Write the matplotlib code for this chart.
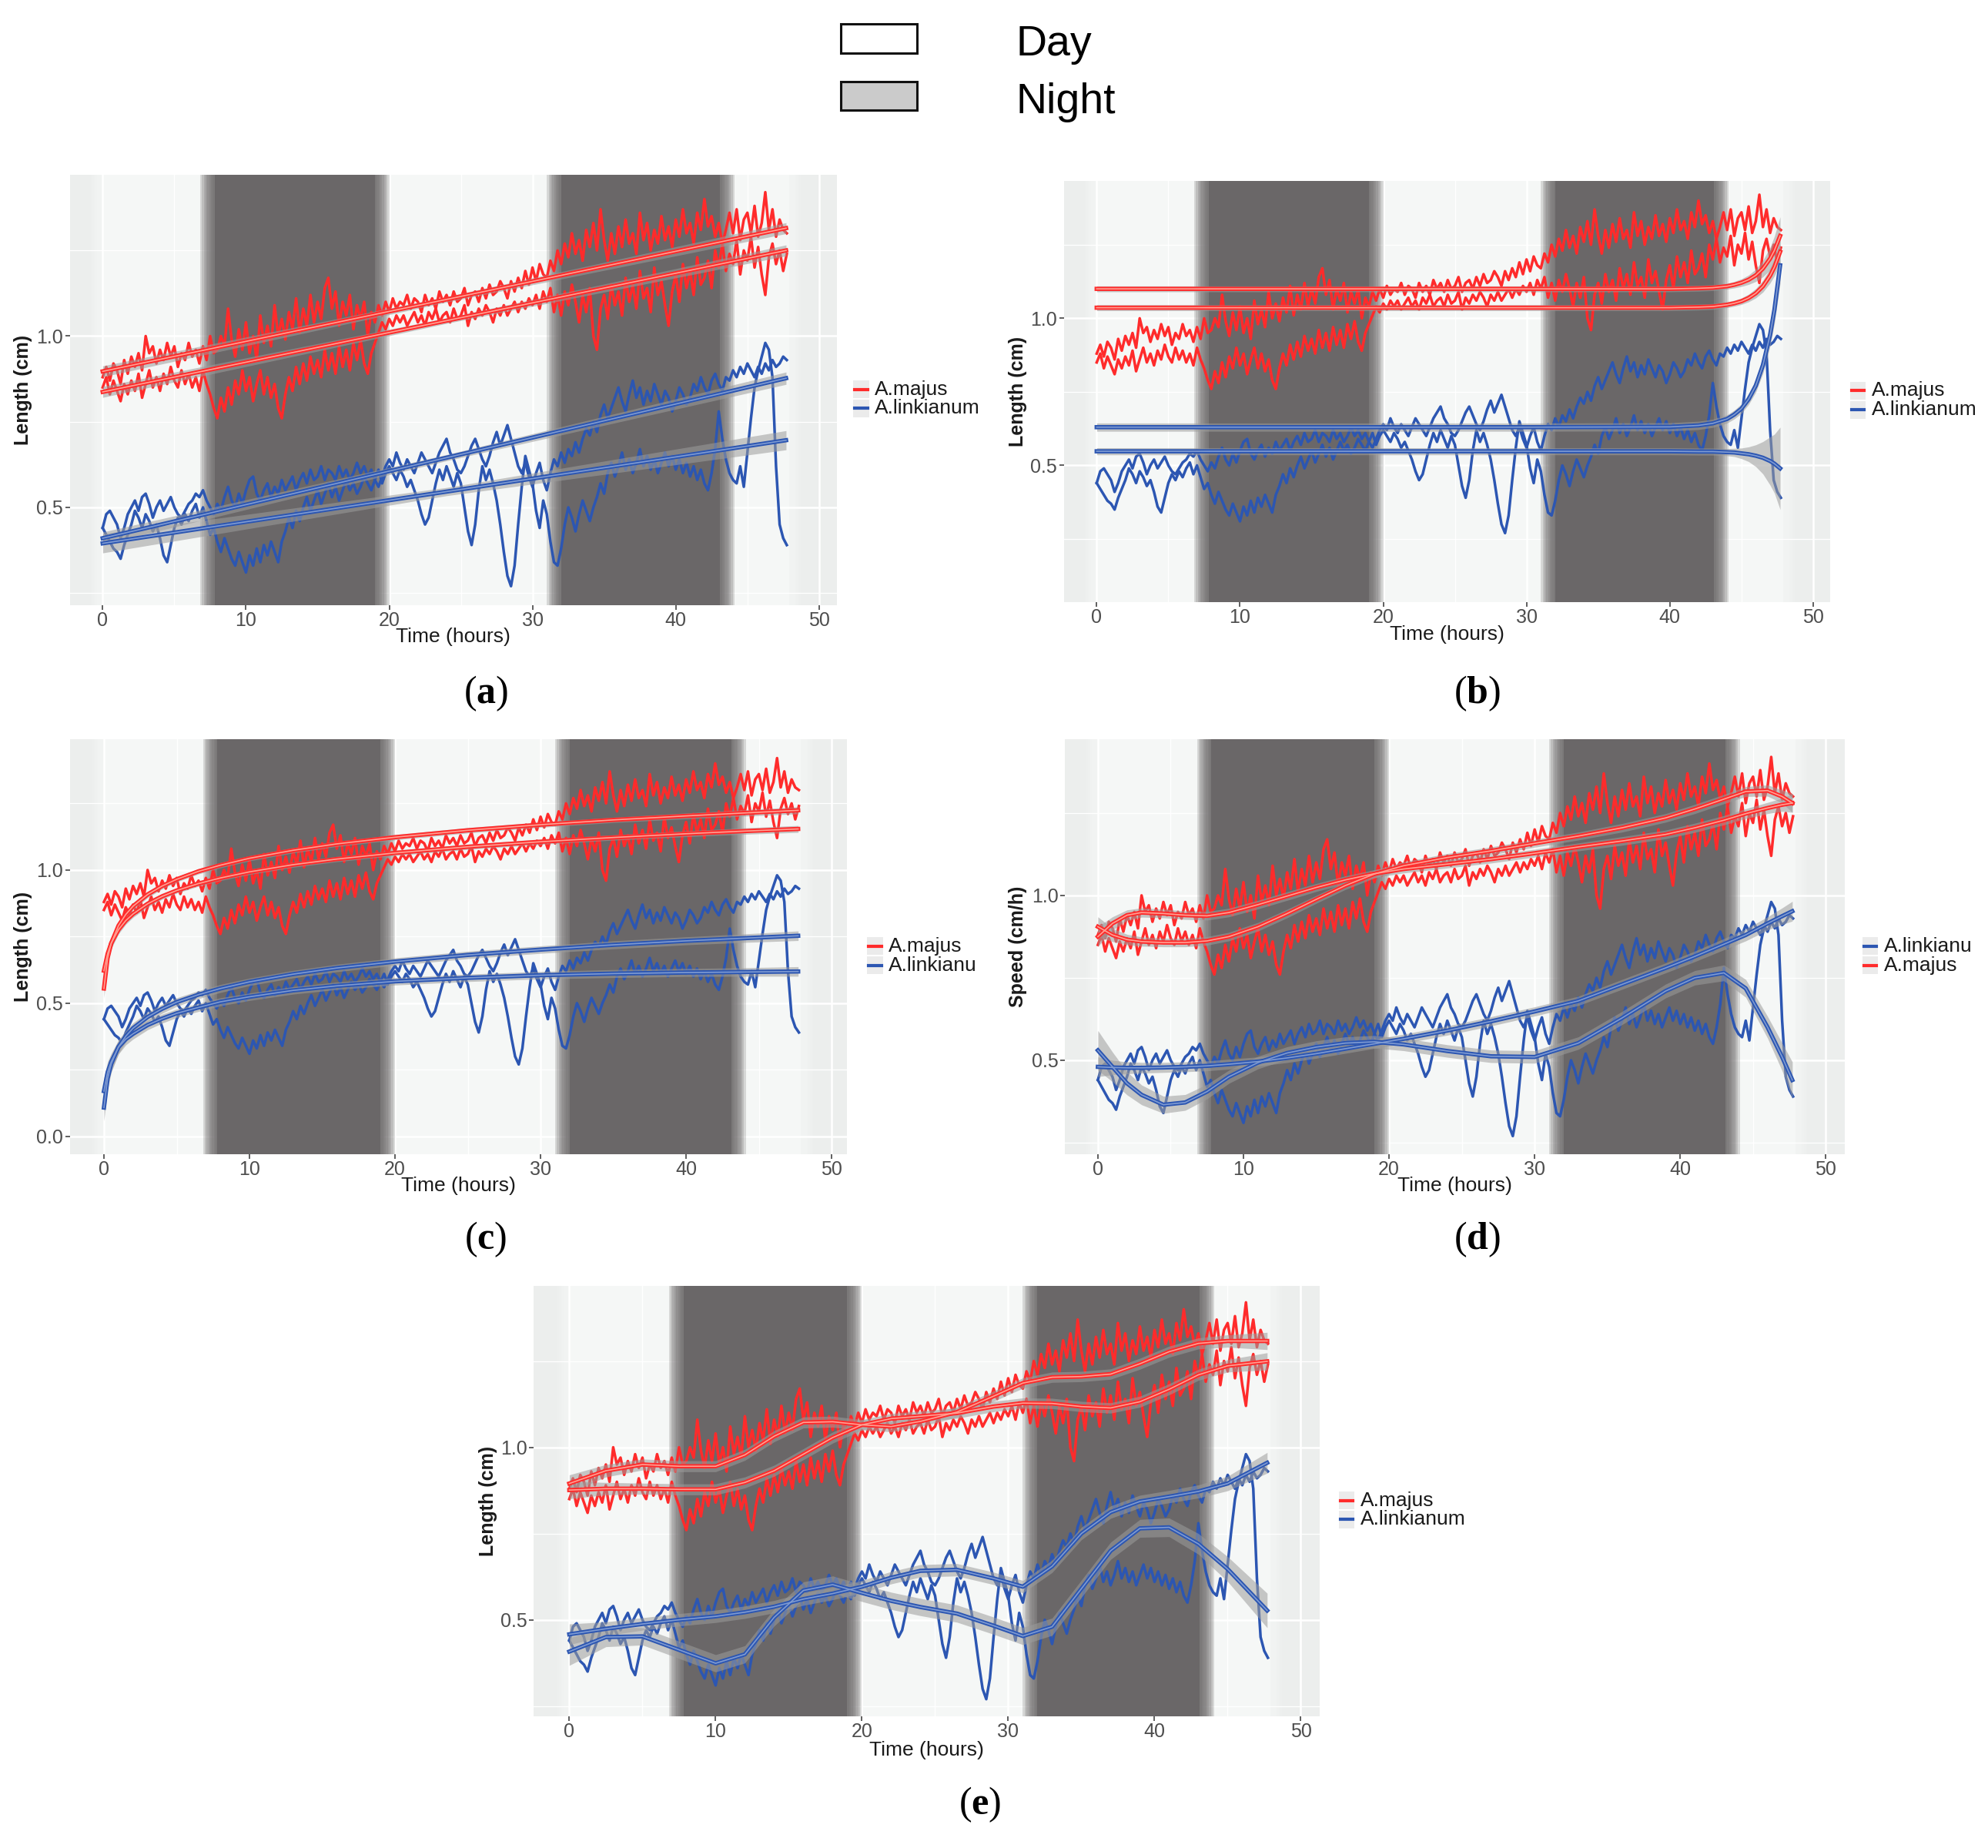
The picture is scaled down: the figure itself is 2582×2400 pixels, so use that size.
import matplotlib.pyplot as plt
import numpy as np
from matplotlib.lines import Line2D
from matplotlib.patches import Rectangle

plt.rcParams["font.family"] = ["Liberation Sans", "DejaVu Sans"]
plt.rcParams["mathtext.fontset"] = "custom"
plt.rcParams["mathtext.rm"] = "Liberation Serif"
plt.rcParams["mathtext.bf"] = "Liberation Serif:bold"

RED = "#ff2b2b"
BLUE = "#2c56b2"
RED_LIGHT = "#ffa093"
BLUE_LIGHT = "#7f9bd2"
PANEL_BG = "#eceeed"
DAY_BG = "#f5f7f6"
NIGHT_BG = "#6a6768"

# raw traces, one value every 0.25 h
TIME = np.arange(192) * 0.25
MAJUS_1 = [
    0.88, 0.91, 0.87, 0.92, 0.90, 0.86, 0.93, 0.89, 0.94, 0.91, 0.95, 0.90, 1.00, 0.95, 0.97, 0.92,
    0.96, 0.93, 0.98, 0.94, 0.97, 0.91, 0.95, 0.93, 0.98, 0.94, 0.96, 0.92, 0.97, 0.93, 1.00, 0.95,
    0.96, 1.00, 0.97, 1.08, 0.99, 0.94, 1.02, 0.96, 1.04, 0.95, 1.00, 0.93, 1.06, 0.98, 1.03, 0.97,
    1.09, 1.00, 1.05, 0.99, 1.07, 1.02, 1.11, 1.01, 1.08, 1.03, 1.12, 1.04, 1.10, 1.05, 1.14, 1.17,
    1.08, 1.13, 1.03, 1.10, 1.06, 1.12, 1.02, 1.09, 1.05, 1.10, 1.00, 1.07, 1.04, 1.09, 1.06, 1.10,
    1.07, 1.11, 1.08, 1.10, 1.09, 1.12, 1.08, 1.11, 1.10, 1.07, 1.12, 1.09, 1.11, 1.08, 1.13, 1.10,
    1.12, 1.09, 1.13, 1.10, 1.11, 1.14, 1.09, 1.12, 1.13, 1.10, 1.14, 1.11, 1.15, 1.12, 1.13, 1.16,
    1.14, 1.11, 1.16, 1.13, 1.17, 1.14, 1.19, 1.15, 1.20, 1.16, 1.21, 1.18, 1.17, 1.22, 1.19, 1.25,
    1.21, 1.27, 1.23, 1.30, 1.24, 1.28, 1.22, 1.31, 1.26, 1.33, 1.25, 1.37, 1.28, 1.22, 1.30, 1.24,
    1.32, 1.26, 1.34, 1.27, 1.30, 1.24, 1.36, 1.28, 1.33, 1.25, 1.31, 1.27, 1.35, 1.28, 1.32, 1.26,
    1.34, 1.29, 1.37, 1.30, 1.33, 1.27, 1.36, 1.31, 1.40, 1.32, 1.35, 1.29, 1.33, 1.27, 1.31, 1.36,
    1.30, 1.37, 1.28, 1.34, 1.36, 1.30, 1.38, 1.29, 1.33, 1.42, 1.31, 1.37, 1.29, 1.34, 1.31, 1.30,
]
MAJUS_2 = [
    0.85, 0.88, 0.83, 0.87, 0.84, 0.81, 0.86, 0.83, 0.87, 0.84, 0.89, 0.82, 0.86, 0.90, 0.85, 0.88,
    0.84, 0.89, 0.86, 0.91, 0.87, 0.85, 0.90, 0.86, 0.89, 0.85, 0.88, 0.84, 0.90, 0.86, 0.83, 0.79,
    0.76, 0.82, 0.78, 0.85, 0.80, 0.87, 0.83, 0.90, 0.84, 0.88, 0.81, 0.86, 0.90, 0.83, 0.88, 0.82,
    0.86, 0.79, 0.76, 0.83, 0.88, 0.84, 0.91, 0.86, 0.92, 0.87, 0.94, 0.89, 0.93, 0.88, 0.96, 0.90,
    0.95, 0.89, 0.97, 0.91, 0.96, 0.90, 0.98, 0.93, 0.99, 0.92, 0.89, 0.95, 0.98, 1.01, 1.04, 1.02,
    1.05, 1.03, 1.06, 1.04, 1.06, 1.03, 1.05, 1.07, 1.04, 1.06, 1.03, 1.07, 1.05, 1.08, 1.04, 1.06,
    1.07, 1.04, 1.08, 1.05, 1.06, 1.09, 1.03, 1.07, 1.05, 1.08, 1.06, 1.09, 1.07, 1.04, 1.08, 1.06,
    1.09, 1.06, 1.08, 1.10, 1.07, 1.10, 1.08, 1.11, 1.09, 1.12, 1.08, 1.13, 1.10, 1.14, 1.07, 1.12,
    1.06, 1.13, 1.09, 1.15, 1.10, 1.04, 1.12, 1.07, 1.14, 1.00, 0.96, 1.08, 1.12, 1.05, 1.15, 1.09,
    1.13, 1.06, 1.17, 1.10, 1.15, 1.08, 1.19, 1.11, 1.14, 1.07, 1.20, 1.12, 1.16, 1.09, 1.03, 1.13,
    1.18, 1.10, 1.21, 1.14, 1.19, 1.12, 1.23, 1.15, 1.17, 1.22, 1.14, 1.25, 1.20, 1.27, 1.19, 1.24,
    1.21, 1.28, 1.18, 1.25, 1.22, 1.29, 1.20, 1.26, 1.18, 1.12, 1.23, 1.27, 1.21, 1.25, 1.19, 1.24,
]
LINK_1 = [
    0.44, 0.48, 0.49, 0.47, 0.45, 0.41, 0.44, 0.48, 0.50, 0.52, 0.49, 0.53, 0.54, 0.51, 0.47, 0.50,
    0.52, 0.49, 0.51, 0.53, 0.50, 0.48, 0.47, 0.49, 0.51, 0.52, 0.54, 0.53, 0.55, 0.52, 0.50, 0.48,
    0.51, 0.49, 0.53, 0.56, 0.52, 0.50, 0.54, 0.51, 0.55, 0.58, 0.59, 0.54, 0.52, 0.55, 0.57, 0.53,
    0.56, 0.54, 0.58, 0.55, 0.57, 0.59, 0.55, 0.58, 0.60, 0.57, 0.61, 0.58, 0.59, 0.62, 0.58, 0.61,
    0.60, 0.58, 0.62, 0.59, 0.61, 0.58, 0.60, 0.63, 0.60, 0.62, 0.59, 0.61, 0.58, 0.56, 0.59, 0.62,
    0.64, 0.62, 0.66, 0.63, 0.61, 0.64, 0.62, 0.60, 0.63, 0.66, 0.64, 0.62, 0.60, 0.63, 0.66, 0.68,
    0.70, 0.66, 0.64, 0.61, 0.60, 0.62, 0.65, 0.68, 0.70, 0.67, 0.64, 0.62, 0.65, 0.69, 0.72, 0.68,
    0.71, 0.74, 0.70, 0.66, 0.62, 0.60, 0.63, 0.59, 0.56, 0.60, 0.63, 0.58, 0.55, 0.60, 0.64, 0.62,
    0.66, 0.63, 0.67, 0.65, 0.69, 0.66, 0.70, 0.73, 0.71, 0.75, 0.72, 0.77, 0.80, 0.76, 0.79, 0.82,
    0.85, 0.81, 0.78, 0.83, 0.87, 0.82, 0.85, 0.80, 0.84, 0.81, 0.86, 0.83, 0.80, 0.84, 0.82, 0.78,
    0.81, 0.85, 0.83, 0.80, 0.82, 0.86, 0.84, 0.88, 0.85, 0.83, 0.87, 0.89, 0.86, 0.84, 0.88, 0.87,
    0.90, 0.88, 0.91, 0.89, 0.92, 0.90, 0.88, 0.91, 0.89, 0.92, 0.90, 0.93, 0.91, 0.92, 0.94, 0.93,
]
LINK_2 = [
    0.44, 0.42, 0.40, 0.38, 0.37, 0.35, 0.39, 0.42, 0.45, 0.49, 0.47, 0.44, 0.48, 0.46, 0.43, 0.45,
    0.41, 0.36, 0.34, 0.39, 0.44, 0.47, 0.45, 0.48, 0.46, 0.49, 0.51, 0.47, 0.50, 0.46, 0.42, 0.44,
    0.40, 0.37, 0.41, 0.38, 0.35, 0.33, 0.37, 0.34, 0.31, 0.36, 0.33, 0.38, 0.34, 0.39, 0.36, 0.40,
    0.37, 0.34, 0.40, 0.43, 0.47, 0.44, 0.49, 0.46, 0.50, 0.53, 0.49, 0.52, 0.55, 0.51, 0.54, 0.57,
    0.53, 0.56, 0.52, 0.55, 0.58, 0.55, 0.57, 0.54, 0.56, 0.59, 0.57, 0.55, 0.58, 0.61, 0.57, 0.60,
    0.62, 0.60, 0.58, 0.61, 0.59, 0.56, 0.58, 0.55, 0.52, 0.48, 0.45, 0.47, 0.52, 0.57, 0.61, 0.58,
    0.62, 0.59, 0.56, 0.60, 0.57, 0.50, 0.43, 0.39, 0.45, 0.55, 0.62, 0.58, 0.61, 0.57, 0.52, 0.45,
    0.37, 0.30, 0.27, 0.33, 0.45, 0.56, 0.65, 0.61, 0.57, 0.49, 0.44, 0.52, 0.48, 0.40, 0.34, 0.33,
    0.38, 0.45, 0.50, 0.47, 0.43, 0.48, 0.52, 0.49, 0.46, 0.50, 0.53, 0.57, 0.54, 0.60, 0.63, 0.59,
    0.62, 0.66, 0.61, 0.64, 0.60, 0.63, 0.67, 0.62, 0.65, 0.61, 0.64, 0.60, 0.63, 0.66, 0.62, 0.65,
    0.61, 0.64, 0.60, 0.63, 0.59, 0.62, 0.58, 0.61, 0.57, 0.55, 0.60, 0.67, 0.78, 0.70, 0.64, 0.60,
    0.58, 0.57, 0.62, 0.56, 0.66, 0.76, 0.85, 0.90, 0.94, 0.98, 0.96, 0.88, 0.62, 0.45, 0.41, 0.39,
]

NIGHTS = [(7.3, 19.5), (31.5, 43.6)]
DAY_EXTENT = (-0.4, 48.3)

# fitted curves: (times, [majus 1, majus 2, link 1, link 2], ribbon half widths)
FIT_A_T = [0, 24, 47.7]
FIT_A = [[0.897, 1.107, 1.315], [0.837, 1.045, 1.250], [0.410, 0.645, 0.877], [0.395, 0.546, 0.696]]
FIT_A_SE = [[0.016, 0.008, 0.016], [0.016, 0.008, 0.016], [0.018, 0.009, 0.018], [0.028, 0.012, 0.028]]

FIT_B_T = [0, 10, 20, 30, 40, 42, 43, 44, 44.5, 45, 45.5, 46, 46.5, 47, 47.3, 47.7]
FIT_B = [
    [1.100, 1.100, 1.100, 1.100, 1.100, 1.102, 1.104, 1.109, 1.114, 1.121, 1.131, 1.146, 1.169, 1.203, 1.231, 1.280],
    [1.036, 1.036, 1.036, 1.036, 1.036, 1.038, 1.040, 1.046, 1.051, 1.058, 1.069, 1.085, 1.109, 1.145, 1.174, 1.226],
    [0.630, 0.630, 0.630, 0.630, 0.631, 0.636, 0.643, 0.658, 0.673, 0.693, 0.725, 0.771, 0.841, 0.944, 1.029, 1.180],
    [0.548, 0.548, 0.548, 0.548, 0.548, 0.547, 0.547, 0.545, 0.544, 0.541, 0.538, 0.533, 0.526, 0.515, 0.506, 0.490],
]
FIT_B_SE = [
    [0.010, 0.010, 0.010, 0.010, 0.010, 0.010, 0.010, 0.010, 0.011, 0.013, 0.016, 0.021, 0.028, 0.038, 0.048, 0.065],
    [0.010, 0.010, 0.010, 0.010, 0.010, 0.010, 0.010, 0.010, 0.010, 0.011, 0.013, 0.016, 0.020, 0.025, 0.030, 0.040],
    [0.014, 0.014, 0.014, 0.014, 0.014, 0.014, 0.014, 0.014, 0.015, 0.016, 0.018, 0.022, 0.028, 0.038, 0.046, 0.060],
    [0.012, 0.012, 0.012, 0.012, 0.012, 0.012, 0.012, 0.012, 0.014, 0.018, 0.025, 0.037, 0.055, 0.082, 0.100, 0.140],
]

FIT_C_T = [0, 0.25, 0.5, 1, 1.5, 2, 3, 4, 5, 6.5, 8, 10, 13, 16, 20, 25, 30, 35, 40, 44, 47.7]
FIT_C = [
    [0.555, 0.669, 0.725, 0.791, 0.833, 0.864, 0.908, 0.940, 0.965, 0.995, 1.018, 1.044, 1.074, 1.098, 1.123, 1.149, 1.170, 1.188, 1.203, 1.214, 1.224],
    [0.622, 0.685, 0.725, 0.776, 0.810, 0.835, 0.873, 0.901, 0.923, 0.949, 0.970, 0.993, 1.020, 1.041, 1.064, 1.087, 1.106, 1.122, 1.136, 1.146, 1.154],
    [0.108, 0.217, 0.272, 0.336, 0.376, 0.406, 0.448, 0.479, 0.504, 0.532, 0.555, 0.580, 0.609, 0.632, 0.656, 0.681, 0.701, 0.719, 0.734, 0.744, 0.753],
    [0.170, 0.240, 0.280, 0.335, 0.365, 0.385, 0.418, 0.442, 0.462, 0.484, 0.505, 0.524, 0.548, 0.565, 0.582, 0.595, 0.605, 0.611, 0.615, 0.617, 0.619],
]
SE_C_RED = [0.035, 0.025, 0.020, 0.016, 0.014, 0.013, 0.012, 0.011, 0.010, 0.010, 0.010, 0.010, 0.010, 0.010, 0.010, 0.010, 0.010, 0.010, 0.011, 0.012, 0.013]
SE_C_BLUE = [0.050, 0.040, 0.032, 0.026, 0.022, 0.020, 0.018, 0.017, 0.016, 0.015, 0.015, 0.014, 0.014, 0.014, 0.014, 0.014, 0.014, 0.015, 0.015, 0.016, 0.018]
FIT_C_SE = [SE_C_RED, SE_C_RED, SE_C_BLUE, SE_C_BLUE]

FIT_D_T = [0, 1, 2, 3, 4.5, 6, 7.5, 9, 11, 13, 15, 17, 19, 21, 24, 27, 30, 33, 36, 39, 41, 43, 44.5, 46, 47, 47.7]
FIT_D = [
    [0.875, 0.915, 0.940, 0.948, 0.945, 0.940, 0.938, 0.948, 0.972, 0.998, 1.024, 1.047, 1.066, 1.080, 1.095, 1.110, 1.128, 1.147, 1.165, 1.185, 1.205, 1.228, 1.248, 1.265, 1.275, 1.280],
    [0.905, 0.880, 0.866, 0.860, 0.857, 0.857, 0.862, 0.875, 0.905, 0.945, 0.988, 1.030, 1.065, 1.090, 1.115, 1.135, 1.158, 1.180, 1.205, 1.235, 1.262, 1.292, 1.315, 1.318, 1.300, 1.280],
    [0.480, 0.478, 0.477, 0.477, 0.478, 0.480, 0.483, 0.488, 0.496, 0.507, 0.520, 0.535, 0.550, 0.565, 0.590, 0.618, 0.648, 0.680, 0.730, 0.780, 0.815, 0.852, 0.880, 0.915, 0.937, 0.952],
    [0.530, 0.480, 0.430, 0.395, 0.365, 0.372, 0.405, 0.450, 0.493, 0.522, 0.540, 0.552, 0.556, 0.548, 0.528, 0.512, 0.510, 0.552, 0.628, 0.710, 0.750, 0.765, 0.718, 0.600, 0.510, 0.440],
]
SE_D_RED = [0.030, 0.020, 0.016, 0.014, 0.013, 0.013, 0.013, 0.013, 0.013, 0.013, 0.012, 0.012, 0.012, 0.012, 0.012, 0.012, 0.012, 0.012, 0.013, 0.013, 0.014, 0.014, 0.015, 0.017, 0.020, 0.028]
SE_D_C = [0.030, 0.022, 0.018, 0.016, 0.015, 0.015, 0.015, 0.015, 0.014, 0.014, 0.014, 0.014, 0.014, 0.014, 0.014, 0.014, 0.014, 0.014, 0.015, 0.015, 0.016, 0.017, 0.018, 0.020, 0.025, 0.030]
SE_D_D = [0.060, 0.045, 0.035, 0.030, 0.026, 0.024, 0.022, 0.020, 0.019, 0.019, 0.019, 0.019, 0.019, 0.019, 0.019, 0.019, 0.019, 0.019, 0.020, 0.021, 0.022, 0.024, 0.027, 0.033, 0.042, 0.055]
FIT_D_SE = [SE_D_RED, SE_D_RED, SE_D_C, SE_D_D]

FIT_E_T = [0, 2.5, 5, 7.5, 10, 12, 14, 16, 18, 20, 22, 24, 26.5, 29, 31, 33, 35, 37, 39, 41, 43, 45, 47.7]
FIT_E = [
    [0.895, 0.932, 0.950, 0.945, 0.945, 0.978, 1.032, 1.072, 1.074, 1.065, 1.060, 1.075, 1.102, 1.148, 1.186, 1.203, 1.205, 1.212, 1.242, 1.277, 1.301, 1.308, 1.308],
    [0.876, 0.880, 0.880, 0.878, 0.878, 0.898, 0.932, 0.980, 1.028, 1.065, 1.083, 1.090, 1.099, 1.118, 1.128, 1.127, 1.118, 1.114, 1.132, 1.168, 1.210, 1.236, 1.249],
    [0.458, 0.474, 0.488, 0.500, 0.510, 0.522, 0.538, 0.560, 0.576, 0.596, 0.622, 0.642, 0.645, 0.620, 0.596, 0.655, 0.750, 0.812, 0.843, 0.857, 0.872, 0.895, 0.955],
    [0.408, 0.450, 0.452, 0.413, 0.374, 0.400, 0.507, 0.585, 0.602, 0.578, 0.555, 0.537, 0.518, 0.483, 0.453, 0.480, 0.590, 0.700, 0.765, 0.768, 0.720, 0.647, 0.527],
]
SE_E_RED = [0.025, 0.018, 0.016, 0.016, 0.016, 0.016, 0.016, 0.016, 0.016, 0.015, 0.015, 0.015, 0.015, 0.015, 0.015, 0.015, 0.015, 0.015, 0.016, 0.016, 0.016, 0.018, 0.025]
SE_E_3 = [0.030, 0.020, 0.018, 0.018, 0.018, 0.018, 0.018, 0.018, 0.018, 0.018, 0.018, 0.018, 0.018, 0.018, 0.018, 0.018, 0.018, 0.018, 0.018, 0.018, 0.019, 0.021, 0.030]
SE_E_4 = [0.040, 0.028, 0.025, 0.025, 0.025, 0.025, 0.025, 0.025, 0.025, 0.025, 0.025, 0.025, 0.025, 0.025, 0.025, 0.025, 0.025, 0.025, 0.026, 0.027, 0.030, 0.036, 0.050]
FIT_E_SE = [SE_E_RED, SE_E_RED, SE_E_3, SE_E_4]

LEG_MAIN = [("A.majus", RED), ("A.linkianum", BLUE)]
LEG_C = [("A.majus", RED), ("A.linkianu", BLUE)]
LEG_D = [("A.linkianu", BLUE), ("A.majus", RED)]

PANELS = [
    dict(label="a", rect=(0.03508, 0.67261, 0.38584, 0.23267), xlim=(-2.3, 51.24), ylim=(0.215, 1.470),
         yticks=[0.5, 1.0], ylabel="Length (cm)", fit=(FIT_A_T, FIT_A, FIT_A_SE), legend=LEG_MAIN,
         leg_xy=(0.4292, 0.7893), ylab_x=0.0115, xlab_y=0.6555, lab_xy=(0.2443, 0.6246)),
    dict(label="b", rect=(0.53508, 0.67426, 0.38559, 0.22787), xlim=(-2.3, 51.2), ylim=(0.036, 1.467),
         yticks=[0.5, 1.0], ylabel="Length (cm)", fit=(FIT_B_T, FIT_B, FIT_B_SE), legend=LEG_MAIN,
         leg_xy=(0.9305, 0.7886), ylab_x=0.5121, xlab_y=0.6568, lab_xy=(0.7430, 0.6246)),
    dict(label="c", rect=(0.03508, 0.37543, 0.39094, 0.22443), xlim=(-2.35, 51.05), ylim=(-0.067, 1.490),
         yticks=[0.0, 0.5, 1.0], ylabel="Length (cm)", fit=(FIT_C_T, FIT_C, FIT_C_SE), legend=LEG_C,
         leg_xy=(0.4362, 0.4880), ylab_x=0.0115, xlab_y=0.3583, lab_xy=(0.2443, 0.3294)),
    dict(label="d", rect=(0.53571, 0.37543, 0.39222, 0.22443), xlim=(-2.26, 51.3), ylim=(0.215, 1.473),
         yticks=[0.5, 1.0], ylabel="Speed (cm/h)", fit=(FIT_D_T, FIT_D, FIT_D_SE), legend=LEG_D,
         leg_xy=(0.9369, 0.4880), ylab_x=0.5121, xlab_y=0.3583, lab_xy=(0.7430, 0.3294)),
    dict(label="e", rect=(0.26849, 0.07138, 0.39541, 0.23267), xlim=(-2.43, 51.3), ylim=(0.221, 1.467),
         yticks=[0.5, 1.0], ylabel="Length (cm)", fit=(FIT_E_T, FIT_E, FIT_E_SE), legend=LEG_MAIN,
         leg_xy=(0.6735, 0.1881), ylab_x=0.2455, xlab_y=0.0528, lab_xy=(0.4930, 0.0233)),
]


def soft_span(ax, x0, x1, color, z, width=0.7, steps=8):
    ax.axvspan(x0 + width / 2, x1 - width / 2, color=color, lw=0, zorder=z)
    for k in range(1, steps + 1):
        d = width / 2 - k * width / steps
        ax.axvspan(x0 + d, x1 - d, color=color, alpha=0.22, lw=0, zorder=z)


fig = plt.figure(figsize=(25.82, 24.0), dpi=100)

for p in PANELS:
    ax = fig.add_axes(p["rect"])
    ax.set_facecolor(PANEL_BG)
    for s in ax.spines.values():
        s.set_visible(False)
    ax.set_axisbelow(True)
    ax.set_xlim(*p["xlim"])
    ax.set_ylim(*p["ylim"])
    ax.set_xticks([0, 10, 20, 30, 40, 50])
    ax.set_xticks([5, 15, 25, 35, 45], minor=True)
    ax.set_yticks(p["yticks"])
    ax.set_yticklabels([f"{v:.1f}" for v in p["yticks"]])
    ax.set_yticks([0.25, 0.75, 1.25], minor=True)
    ax.grid(which="major", color="white", lw=1.8)
    ax.grid(which="minor", color="white", lw=0.9)
    ax.tick_params(which="major", length=4, width=1.2, color="#444444", labelsize=18,
                   labelcolor="#4d4d4d", pad=2)
    ax.tick_params(which="minor", length=0)

    soft_span(ax, DAY_EXTENT[0], DAY_EXTENT[1], DAY_BG, 0.3, width=0.8)
    for n0, n1 in NIGHTS:
        soft_span(ax, n0, n1, NIGHT_BG, 1, width=1.0)

    for vals, col in [(MAJUS_1, RED), (MAJUS_2, RED), (LINK_1, BLUE), (LINK_2, BLUE)]:
        ax.plot(TIME, vals, color=col, lw=2.5, zorder=3, solid_joinstyle="round")

    ft, fvals, fse = p["fit"]
    for vals, se, col, light in zip(fvals, fse, [RED, RED, BLUE, BLUE],
                                    [RED_LIGHT, RED_LIGHT, BLUE_LIGHT, BLUE_LIGHT]):
        v = np.array(vals)
        e = np.array(se)
        ax.fill_between(ft, v - e, v + e, color="#9c9c9c", alpha=0.55, lw=0, zorder=4)
        ax.plot(ft, v, color=col, lw=4.0, zorder=5, solid_joinstyle="round")
        ax.plot(ft, v, color=light, lw=1.2, zorder=6, solid_joinstyle="round")

    left, bottom, w, h = p["rect"]
    fig.text(left + w / 2, p["xlab_y"], "Time (hours)", ha="center", va="center",
             fontsize=19, color="#1a1a1a")
    fig.text(p["ylab_x"], bottom + h / 2, p["ylabel"], ha="center", va="center",
             rotation=90, fontsize=18, color="#1a1a1a", fontweight="bold")
    fig.text(p["lab_xy"][0], p["lab_xy"][1], r"$\mathrm{(}\mathbf{" + p["label"] + r"}\mathrm{)}$",
             ha="center", va="center", fontsize=36, color="black")

    kx, ky = p["leg_xy"]
    for i, (name, col) in enumerate(p["legend"]):
        yy = ky - i * 0.0103
        fig.add_artist(Rectangle((kx, yy - 0.0048), 0.0079, 0.0096, transform=fig.transFigure,
                                 facecolor="#ebebeb", edgecolor="none"))
        fig.add_artist(Line2D([kx + 0.0008, kx + 0.0071], [yy, yy], transform=fig.transFigure,
                              color=col, lw=3.0))
        fig.text(kx + 0.0109, yy, name, ha="left", va="center", fontsize=19, color="#1a1a1a")

# Day / Night key at the top
fig.add_artist(Rectangle((0.4228, 0.9712), 0.0386, 0.0160, transform=fig.transFigure,
                         facecolor="white", edgecolor="#111111", lw=2.2))
fig.add_artist(Rectangle((0.4228, 0.9403), 0.0386, 0.0155, transform=fig.transFigure,
                         facecolor="#cbcbcb", edgecolor="#111111", lw=2.2))
fig.text(0.5112, 0.9701, "Day", ha="left", va="baseline", fontsize=40, color="black")
fig.text(0.5112, 0.9389, "Night", ha="left", va="baseline", fontsize=40, color="black")

fig.savefig("out.png", dpi=100, facecolor="white")
